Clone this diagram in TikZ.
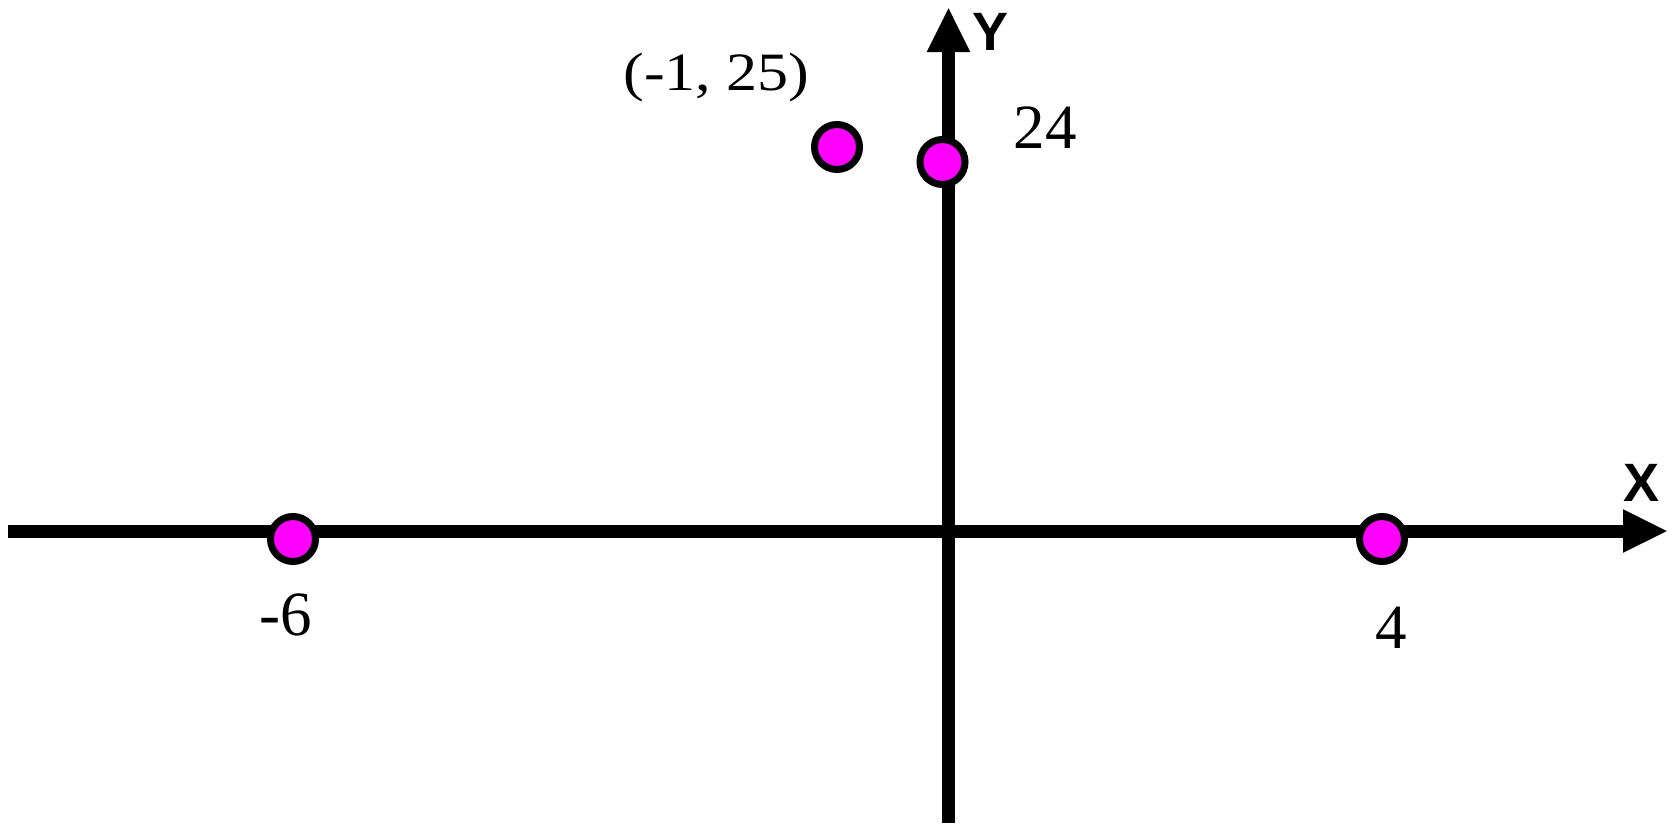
\documentclass[tikz,border=0pt]{standalone}
\usepackage{fontspec}
\setmainfont{Liberation Serif}
\newfontfamily\axfont{Liberation Sans}
\usetikzlibrary{arrows.meta}
\definecolor{ptmag}{RGB}{255,0,255}
\tikzset{
  axis/.style={line width=13pt, -{Triangle[length=45pt 0 0,width=40pt 0 0]}},
  pt/.style={circle, draw=black, fill=ptmag, line width=7pt, minimum size=45pt, inner sep=0pt},
  lbl/.style={anchor=base, inner sep=0pt, font=\fontsize{63}{63}\selectfont},
  axlbl/.style={inner sep=0pt, font=\axfont\bfseries\fontsize{54}{54}\selectfont}
}
\begin{document}
\begin{tikzpicture}[x=1pt,y=-1pt]
\useasboundingbox (0,0) rectangle (1673,823);
\coordinate (xs) at (8,531);
\coordinate (xe) at (1668,531);
\coordinate (ys) at (948.5,823);
\coordinate (ye) at (948.5,7);
\draw[axis] (xs) -- (xe);
\draw[axis] (ys) -- (ye);
\node[axlbl] (xl) at (1641,483) {X};
\node[axlbl] (yl) at (990,32) {Y};
\node[pt] (p1) at (837,147) {};
\node[pt] (p2) at (942.5,162) {};
\node[pt] (p3) at (293,539) {};
\node[pt] (p4) at (1382,539) {};
\node[anchor=base, inner sep=0pt, font=\fontsize{54}{54}\selectfont, xscale=1.15] (l1) at (716.5,90) {(-1, 25)};
\node[lbl] (l2) at (1045,148) {24};
\node[lbl] (l3) at (286,635) {-6};
\node[lbl] (l4) at (1391.5,648) {4};
\end{tikzpicture}
\end{document}
